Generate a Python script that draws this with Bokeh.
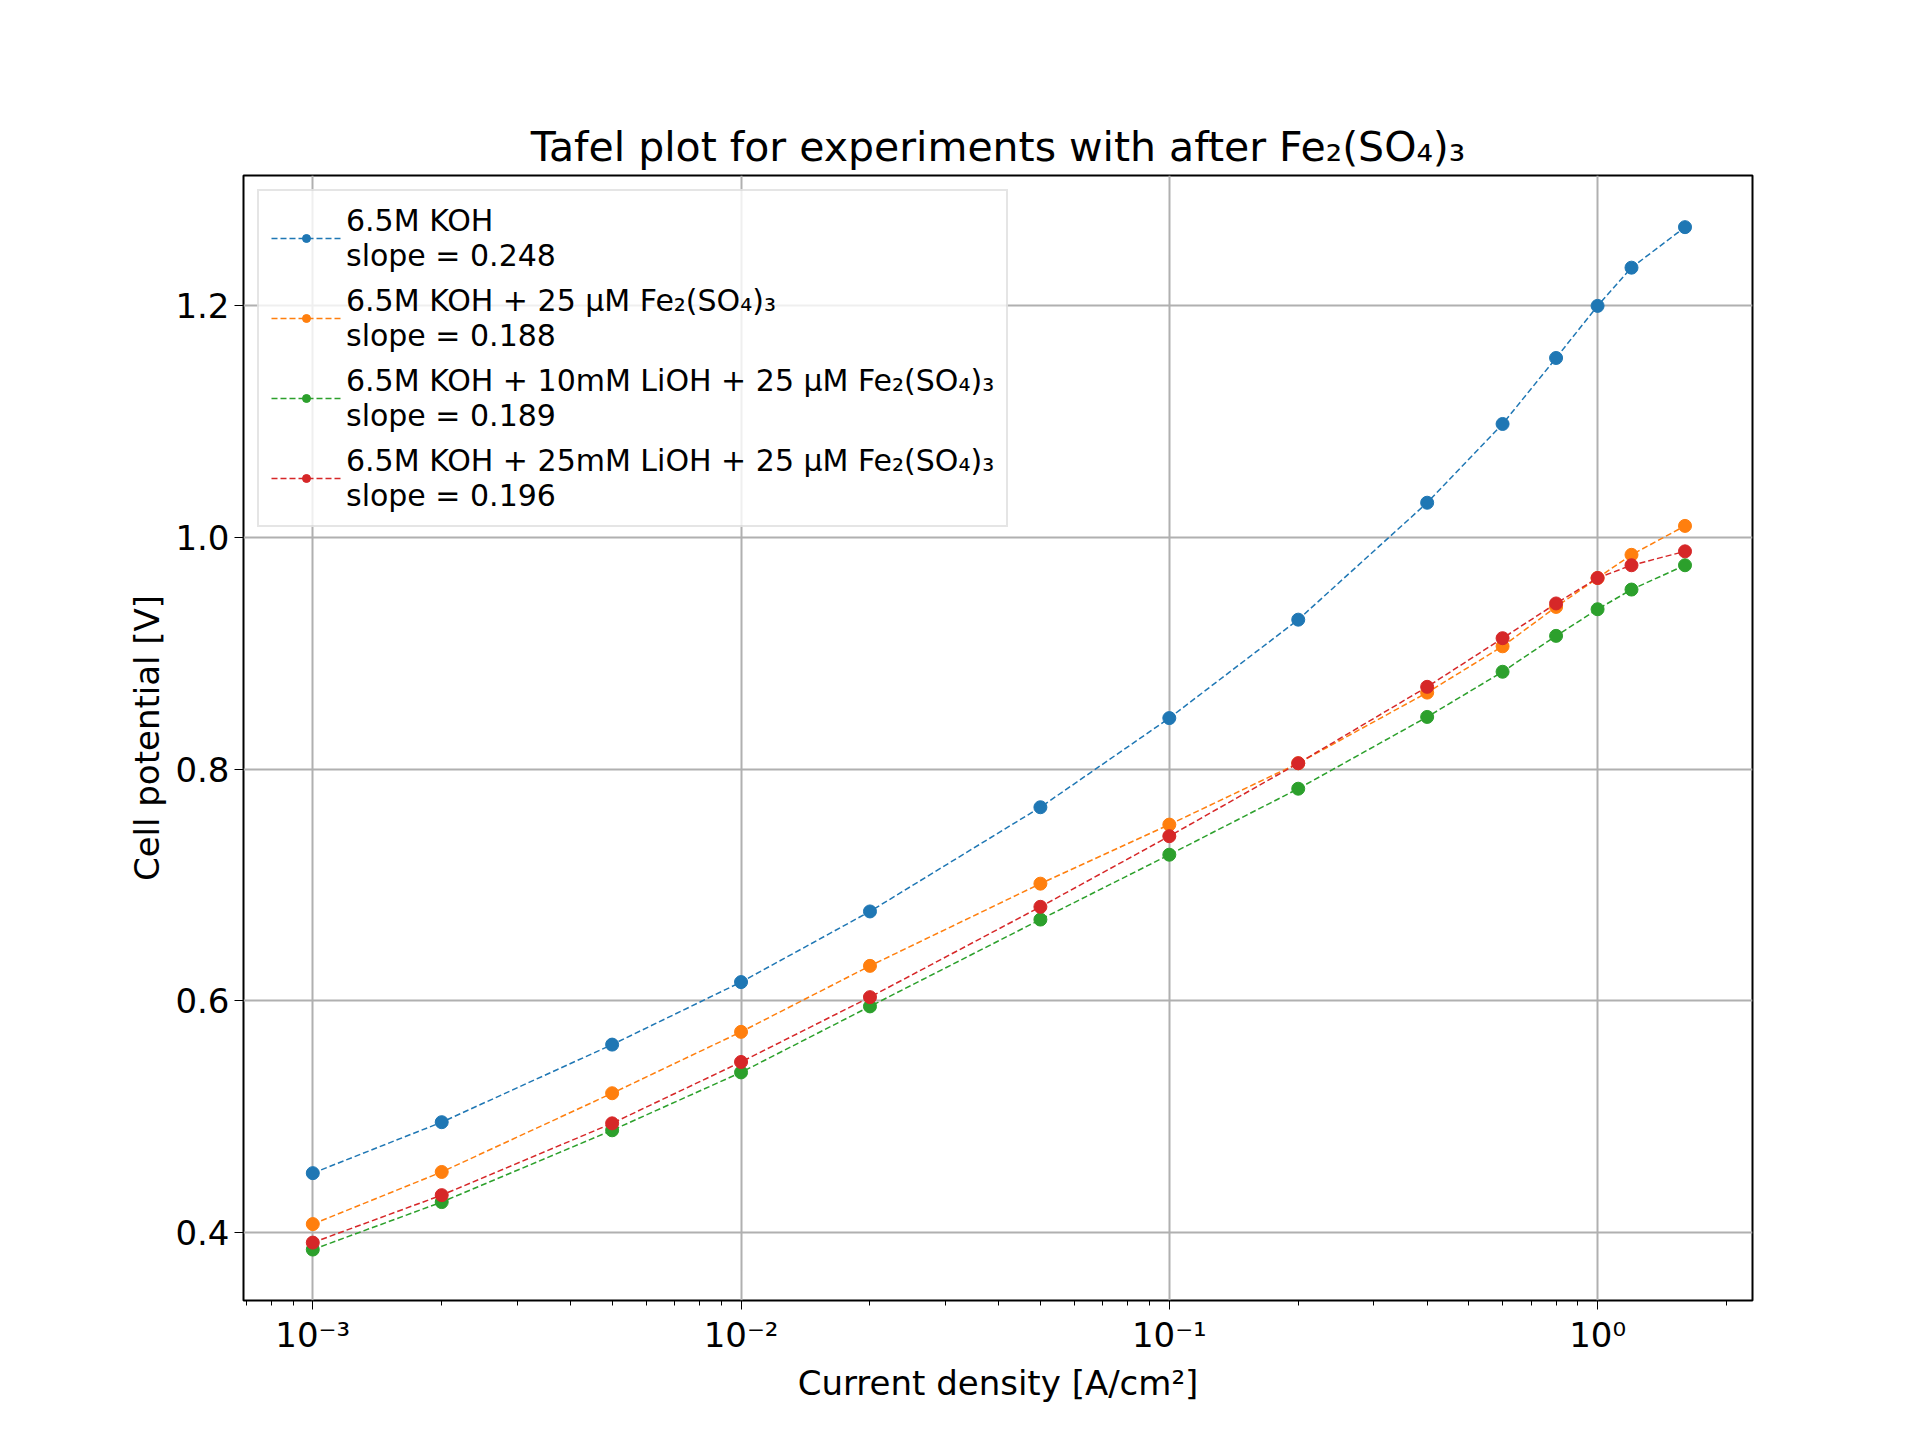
from bokeh.plotting import figure
from bokeh.models import FixedTicker, Range1d, Legend, LegendItem
from bokeh.embed import file_html
from bokeh.resources import INLINE

current = [0.001, 0.002, 0.005, 0.01, 0.02, 0.05, 0.1, 0.2, 0.4, 0.6, 0.8, 1.0, 1.2, 1.6]
koh = [0.451, 0.495, 0.562, 0.616, 0.677, 0.767, 0.844, 0.929, 1.030, 1.098, 1.155, 1.200, 1.233, 1.268]
fe = [0.407, 0.452, 0.520, 0.573, 0.630, 0.701, 0.752, 0.805, 0.866, 0.906, 0.940, 0.965, 0.985, 1.010]
li10 = [0.385, 0.426, 0.488, 0.538, 0.595, 0.670, 0.726, 0.783, 0.845, 0.884, 0.915, 0.938, 0.955, 0.976]
li25 = [0.391, 0.432, 0.494, 0.547, 0.603, 0.681, 0.742, 0.805, 0.871, 0.913, 0.943, 0.965, 0.976, 0.988]

labels = [
    "6.5M KOH\nslope = 0.248",
    "6.5M KOH + 25 μM Fe₂(SO₄)₃\nslope = 0.188",
    "6.5M KOH + 10mM LiOH + 25 μM Fe₂(SO₄)₃\nslope = 0.189",
    "6.5M KOH + 25mM LiOH + 25 μM Fe₂(SO₄)₃\nslope = 0.196",
]
colors = ["#1f77b4", "#ff7f0e", "#2ca02c", "#d62728"]

FONT = "DejaVu Sans"

p = figure(width=1900, height=1420, x_axis_type="log",
           x_range=Range1d(0.000689, 2.30), y_range=Range1d(0.341, 1.3126),
           title="Tafel plot for experiments with after Fe₂(SO₄)₃",
           output_backend="svg", toolbar_location=None,
           min_border_left=243, min_border_right=148,
           min_border_top=175, min_border_bottom=120)

p.title.align = "center"
p.title.text_font = FONT
p.title.text_font_size = "41px"
p.title.text_font_style = "normal"
p.title.text_color = "black"

items = []
for ys, lab, c in zip([koh, fe, li10, li25], labels, colors):
    r1 = p.line(current, ys, line_color=c, line_width=1.5, line_dash="6 3")
    r2 = p.scatter(current, ys, size=13, fill_color=c, line_color=c)
    items.append(LegendItem(label=lab, renderers=[r1, r2]))

legend = Legend(items=items, location="top_left", label_text_font=FONT,
                label_text_font_size="30px", label_text_color="black",
                label_text_line_height=1.25, border_line_color="#cccccc",
                border_line_width=2, background_fill_alpha=0.8,
                glyph_width=70, spacing=10, margin=14, padding=12)
p.add_layout(legend)

minor = [m * 10.0 ** e for e in range(-4, 1) for m in range(2, 10)]
p.xaxis.ticker = FixedTicker(ticks=[0.001, 0.01, 0.1, 1.0], minor_ticks=minor)
p.xaxis.major_label_overrides = {0.001: "10⁻³", 0.01: "10⁻²", 0.1: "10⁻¹", 1.0: "10⁰"}
p.yaxis.ticker = FixedTicker(ticks=[0.4, 0.6, 0.8, 1.0, 1.2])
p.yaxis.major_label_overrides = {0.4: "0.4", 0.6: "0.6", 0.8: "0.8", 1.0: "1.0", 1: "1.0", 1.2: "1.2"}

p.xaxis.axis_label = "Current density [A/cm²]"
p.yaxis.axis_label = "Cell potential [V]"
for ax in (p.xaxis, p.yaxis):
    ax.axis_label_text_font = FONT
    ax.axis_label_text_font_size = "34px"
    ax.axis_label_text_font_style = "normal"
    ax.axis_label_text_color = "black"
    ax.major_label_text_font = FONT
    ax.major_label_text_font_size = "34px"
    ax.major_label_text_color = "black"
    ax.major_tick_line_color = "black"
    ax.major_tick_out = 9
    ax.major_tick_in = 0
    ax.minor_tick_out = 5
    ax.minor_tick_in = 0
    ax.axis_line_color = None
p.yaxis.minor_tick_line_color = None

p.grid.grid_line_color = "#b0b0b0"
p.grid.grid_line_width = 2
p.outline_line_color = "black"
p.outline_line_width = 2
p.background_fill_color = "white"

open("out.html", "w").write(file_html(p, INLINE))
